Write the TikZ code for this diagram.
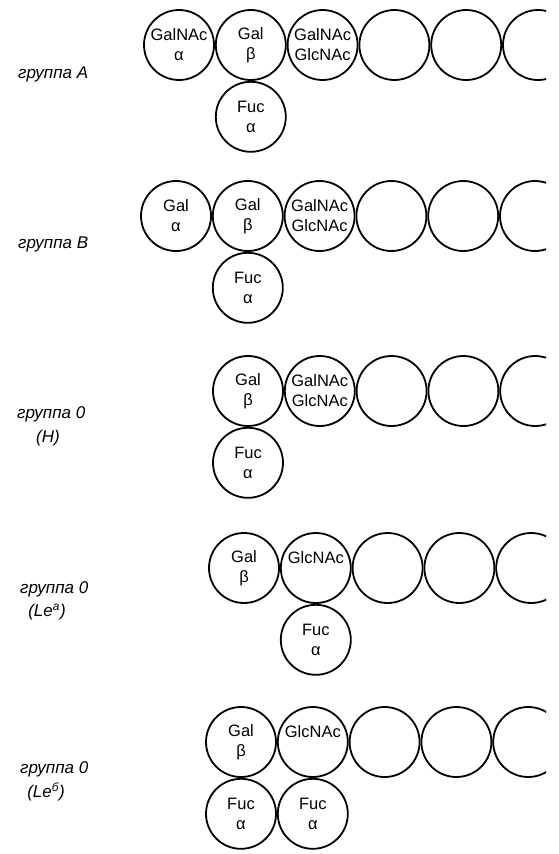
\documentclass[tikz,border=0pt]{standalone}
\usepackage{fontspec}
\setmainfont{Liberation Sans}
\usetikzlibrary{positioning}
\tikzset{
    sugar/.style={circle,draw,minimum size=70pt,inner sep=0pt,line width=1.8pt,align=center,font=\fontsize{16.5}{20}\selectfont},
    grouptag/.style={inner sep=0pt,font=\itshape\fontsize{17}{20}\selectfont},
    subtag/.style={inner sep=0pt,font=\itshape\fontsize{17}{20}\selectfont}
}
\begin{document}
\begin{tikzpicture}[x=1pt,y=-1pt]
        \useasboundingbox (0,0) rectangle (558,854);
        \clip (0,0) rectangle (546,854);

        % группа A
        \node[grouptag,anchor=west] (tagA) at (18,74) {группа A};
        \node[sugar] (a1) at (179,45) {GalNAc\\α};
        \node[sugar,right=0pt of a1] (a2) {Gal\\β};
        \node[sugar,right=0pt of a2] (a3) {GalNAc\\GlcNAc};
        \node[sugar,right=0pt of a3] (a4) {};
        \node[sugar,right=0pt of a4] (a5) {};
        \node[sugar,right=0pt of a5] (a6) {};
        \node[sugar,below=0pt of a2] (fucA) {Fuc\\α};

        % группа B
        \node[grouptag,anchor=west] (tagB) at (18,244) {группа B};
        \node[sugar] (b1) at (176,216) {Gal\\α};
        \node[sugar,right=0pt of b1] (b2) {Gal\\β};
        \node[sugar,right=0pt of b2] (b3) {GalNAc\\GlcNAc};
        \node[sugar,right=0pt of b3] (b4) {};
        \node[sugar,right=0pt of b4] (b5) {};
        \node[sugar,right=0pt of b5] (b6) {};
        \node[sugar,below=0pt of b2] (fucB) {Fuc\\α};

        % группа 0 (H)
        \node[grouptag,anchor=west] (tagH) at (17,414) {группа 0};
        \node[subtag] (subH) at (48,438) {(H)};
        \node[sugar] (h1) at (248,391) {Gal\\β};
        \node[sugar,right=0pt of h1] (h2) {GalNAc\\GlcNAc};
        \node[sugar,right=0pt of h2] (h3) {};
        \node[sugar,right=0pt of h3] (h4) {};
        \node[sugar,right=0pt of h4] (h5) {};
        \node[sugar,below=0pt of h1] (fucH) {Fuc\\α};

        % группа 0 (Le a)
        \node[grouptag,anchor=west] (tagLa) at (20,589) {группа 0};
        \node[subtag] (subLa) at (47,612) {(Le\textsuperscript{a})};
        \node[sugar] (la1) at (244,568) {Gal\\β};
        \node[sugar,right=0pt of la1] (la2) {GlcNAc\\\phantom{α}};
        \node[sugar,right=0pt of la2] (la3) {};
        \node[sugar,right=0pt of la3] (la4) {};
        \node[sugar,right=0pt of la4] (la5) {};
        \node[sugar,below=0pt of la2] (fucLa) {Fuc\\α};

        % группа 0 (Le b)
        \node[grouptag,anchor=west] (tagLb) at (20,769) {группа 0};
        \node[subtag] (subLb) at (46,792) {(Le\textsuperscript{б})};
        \node[sugar] (lb1) at (241,742) {Gal\\β};
        \node[sugar,right=0pt of lb1] (lb2) {GlcNAc\\\phantom{α}};
        \node[sugar,right=0pt of lb2] (lb3) {};
        \node[sugar,right=0pt of lb3] (lb4) {};
        \node[sugar,right=0pt of lb4] (lb5) {};
        \node[sugar,below=0pt of lb1] (fucLb1) {Fuc\\α};
        \node[sugar,right=0pt of fucLb1] (fucLb2) {Fuc\\α};
\end{tikzpicture}
\end{document}
